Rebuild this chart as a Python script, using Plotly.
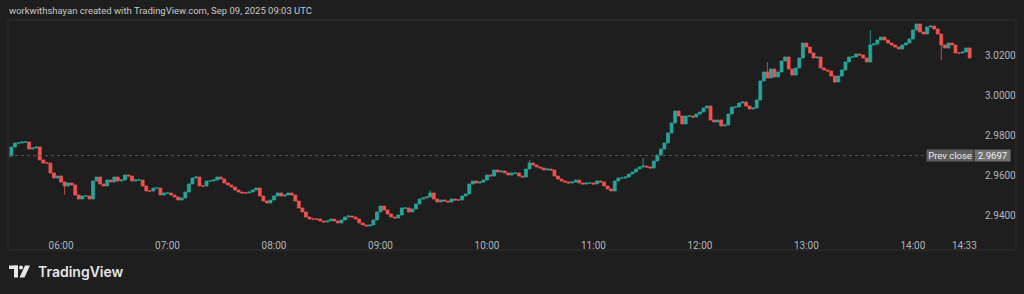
import plotly.graph_objects as go
import pandas as pd

# ---------------- data (2-minute candles) ----------------
start_time = "2025-09-09 05:30"
first_open = 2.9690
closes = [
    2.9695, 2.9740, 2.9760, 2.9760, 2.9765, 2.9765, 2.9730, 2.9735, 2.9740, 2.9675,
    2.9660, 2.9660, 2.9610, 2.9585, 2.9595, 2.9565, 2.9545, 2.9560, 2.9550, 2.9500,
    2.9480, 2.9495, 2.9495, 2.9480, 2.9570, 2.9590, 2.9555, 2.9545, 2.9575, 2.9565,
    2.9590, 2.9570, 2.9575, 2.9600, 2.9595, 2.9570, 2.9575, 2.9575, 2.9545, 2.9520,
    2.9520, 2.9535, 2.9535, 2.9500, 2.9510, 2.9510, 2.9500, 2.9490, 2.9475, 2.9485,
    2.9515, 2.9555, 2.9585, 2.9590, 2.9545, 2.9545, 2.9570, 2.9570, 2.9575, 2.9590,
    2.9580, 2.9560, 2.9550, 2.9540, 2.9525, 2.9515, 2.9510, 2.9510, 2.9515, 2.9525,
    2.9535, 2.9495, 2.9470, 2.9460, 2.9475, 2.9495, 2.9510, 2.9495, 2.9500, 2.9510,
    2.9500, 2.9470, 2.9435, 2.9415, 2.9390, 2.9380, 2.9380, 2.9380, 2.9370, 2.9365,
    2.9370, 2.9380, 2.9370, 2.9360, 2.9375, 2.9390, 2.9395, 2.9390, 2.9380, 2.9360,
    2.9350, 2.9345, 2.9350, 2.9375, 2.9415, 2.9445, 2.9425, 2.9405, 2.9390, 2.9385,
    2.9400, 2.9435, 2.9435, 2.9415, 2.9430, 2.9455, 2.9480, 2.9485, 2.9490, 2.9510,
    2.9480, 2.9465, 2.9475, 2.9470, 2.9465, 2.9480, 2.9475, 2.9475, 2.9495, 2.9505,
    2.9555, 2.9570, 2.9560, 2.9565, 2.9575, 2.9600, 2.9595, 2.9625, 2.9615, 2.9620,
    2.9610, 2.9600, 2.9610, 2.9610, 2.9595, 2.9590, 2.9630, 2.9660, 2.9650, 2.9640,
    2.9635, 2.9625, 2.9630, 2.9625, 2.9595, 2.9580, 2.9570, 2.9565, 2.9560, 2.9565,
    2.9575, 2.9560, 2.9555, 2.9560, 2.9560, 2.9555, 2.9570, 2.9565, 2.9545, 2.9530,
    2.9520, 2.9570, 2.9585, 2.9585, 2.9590, 2.9605, 2.9615, 2.9630, 2.9640, 2.9645,
    2.9640, 2.9635, 2.9670, 2.9700, 2.9730, 2.9760, 2.9810, 2.9860, 2.9920, 2.9895,
    2.9855, 2.9895, 2.9895, 2.9890, 2.9905, 2.9915, 2.9935, 2.9945, 2.9875, 2.9865,
    2.9875, 2.9845, 2.9850, 2.9905, 2.9940, 2.9940, 2.9960, 2.9965, 2.9945, 2.9930,
    2.9935, 2.9975, 3.0070, 3.0115, 3.0085, 3.0130, 3.0090, 3.0115, 3.0170, 3.0190,
    3.0130, 3.0100, 3.0135, 3.0185, 3.0260, 3.0240, 3.0210, 3.0185, 3.0190, 3.0135,
    3.0125, 3.0120, 3.0095, 3.0065, 3.0095, 3.0125, 3.0165, 3.0190, 3.0190, 3.0205,
    3.0200, 3.0185, 3.0165, 3.0250, 3.0255, 3.0275, 3.0290, 3.0275, 3.0260, 3.0250,
    3.0240, 3.0230, 3.0250, 3.0260, 3.0280, 3.0325, 3.0355, 3.0315, 3.0305, 3.0340,
    3.0345, 3.0330, 3.0305, 3.0250, 3.0235, 3.0260, 3.0250, 3.0210, 3.0210, 3.0215,
    3.0235, 3.0185,
]
# a few visible wicks (candle index -> extreme price)
wick_highs = {119: 2.9525, 147: 2.9675, 179: 2.9685, 214: 3.0165, 243: 3.0325}
wick_lows = {16: 2.9500, 233: 3.0060, 263: 3.0175}

prev_close = 2.9697
price_ticks = [2.94, 2.96, 2.98, 3.00, 3.02]
time_tickvals = ["2025-09-09 06:00", "2025-09-09 07:00", "2025-09-09 08:00",
                 "2025-09-09 09:00", "2025-09-09 10:00", "2025-09-09 11:00",
                 "2025-09-09 12:00", "2025-09-09 13:00", "2025-09-09 14:00",
                 "2025-09-09 14:29"]
time_ticktext = ["06:00", "07:00", "08:00", "09:00", "10:00", "11:00",
                 "12:00", "13:00", "14:00", "14:33"]
title_text = "workwithshayan created with TradingView.com, Sep 09, 2025 09:03 UTC"
brand_text = "TradingView"

# ---------------- build OHLC ----------------
times = pd.date_range(start_time, periods=len(closes), freq="2min")
opens = [first_open] + closes[:-1]
highs = [max(o, c) for o, c in zip(opens, closes)]
lows = [min(o, c) for o, c in zip(opens, closes)]
for i, v in wick_highs.items():
    highs[i] = max(highs[i], v)
for i, v in wick_lows.items():
    lows[i] = min(lows[i], v)

UP = "#26a69a"
DOWN = "#ef5350"
BG = "#1e1e1e"
TXT = "#b2b5be"
FONT = "Liberation Sans Narrow, Roboto, Liberation Sans, sans-serif"

fig = go.Figure(go.Candlestick(
    x=times, open=opens, high=highs, low=lows, close=closes,
    increasing=dict(line=dict(color=UP, width=0.8), fillcolor=UP),
    decreasing=dict(line=dict(color=DOWN, width=0.8), fillcolor=DOWN),
    whiskerwidth=0, showlegend=False, hoverinfo="skip",
))

# plot area in pixels: x 9..975, y 21..230
L, R, T, B = 9, 975, 21, 230
W, H = 1024, 294


def px(x):
    return (x - L) / (R - L)


def py(y):
    return (B - y) / (B - T)


shapes = [
    # chart panel frame
    dict(type="rect", xref="paper", yref="paper", x0=px(8), x1=px(1016), y0=py(250), y1=py(20),
         line=dict(color="#303030", width=1), fillcolor="rgba(0,0,0,0)", layer="below"),
    # previous close line
    dict(type="line", xref="paper", yref="y", x0=0, x1=px(925), y0=prev_close, y1=prev_close,
         line=dict(color="#5a5a5a", width=1, dash="dot")),
    # TradingView logo glyph
    dict(type="rect", xref="paper", yref="paper", x0=px(9), x1=px(18), y0=py(269), y1=py(265.5),
         line=dict(width=0), fillcolor="#e6e6e6"),
    dict(type="rect", xref="paper", yref="paper", x0=px(14), x1=px(18), y0=py(277.5), y1=py(265.5),
         line=dict(width=0), fillcolor="#e6e6e6"),
    dict(type="circle", xref="paper", yref="paper", x0=px(19), x1=px(23), y0=py(269.5), y1=py(265.5),
         line=dict(width=0), fillcolor="#e6e6e6"),
    dict(type="path", xref="paper", yref="paper",
         path=f"M {px(25)} {py(265.5)} L {px(30)} {py(265.5)} L {px(24.5)} {py(277.5)} L {px(19.5)} {py(277.5)} Z",
         line=dict(width=0), fillcolor="#e6e6e6"),
]

annotations = [
    dict(text=title_text, xref="paper", yref="paper", x=px(7), y=py(10), xanchor="left",
         yanchor="middle", showarrow=False, font=dict(family=FONT, size=9.5, color="#c8c8c8")),
    dict(text=brand_text, xref="paper", yref="paper", x=px(36), y=py(271), xanchor="left",
         yanchor="middle", showarrow=False,
         font=dict(family="Inter, Lato, sans-serif", size=14, color="#e6e6e6", weight=600)),
    dict(text="Prev close", xref="paper", yref="y", x=px(949.5), y=prev_close, xanchor="center",
         yanchor="middle", showarrow=False, width=46, height=11, bgcolor="#5e5e5e",
         borderpad=0, font=dict(family=FONT, size=9.5, color="#e8e8e8")),
    dict(text=f"{prev_close:.4f}", xref="paper", yref="y", x=px(992), y=prev_close,
         xanchor="center", yanchor="middle", showarrow=False, width=35, height=11,
         bgcolor="#707070", borderpad=0, font=dict(family=FONT, size=9.5, color="#f0f0f0")),
]

fig.update_layout(
    width=W, height=H,
    margin=dict(l=L, r=W - R, t=T, b=H - B),
    paper_bgcolor=BG, plot_bgcolor=BG,
    boxgap=0.1, boxgroupgap=0.1,
    shapes=shapes, annotations=annotations,
    xaxis=dict(
        type="date", range=["2025-09-09 05:30:40", "2025-09-09 14:35:00"],
        rangeslider=dict(visible=False), showgrid=False, zeroline=False, showline=False,
        tickmode="array", tickvals=time_tickvals, ticktext=time_ticktext,
        ticks="outside", ticklen=6, tickcolor="rgba(0,0,0,0)",
        tickfont=dict(family=FONT, size=10, color=TXT),
    ),
    yaxis=dict(
        side="right", range=[2.9325, 3.037], showgrid=False, zeroline=False, showline=False,
        tickmode="array", tickvals=price_ticks, ticktext=[f"{v:.4f}" for v in price_ticks],
        ticks="outside", ticklen=7, tickcolor="rgba(0,0,0,0)",
        tickfont=dict(family=FONT, size=10, color=TXT),
    ),
)

fig.write_html("out.html")
